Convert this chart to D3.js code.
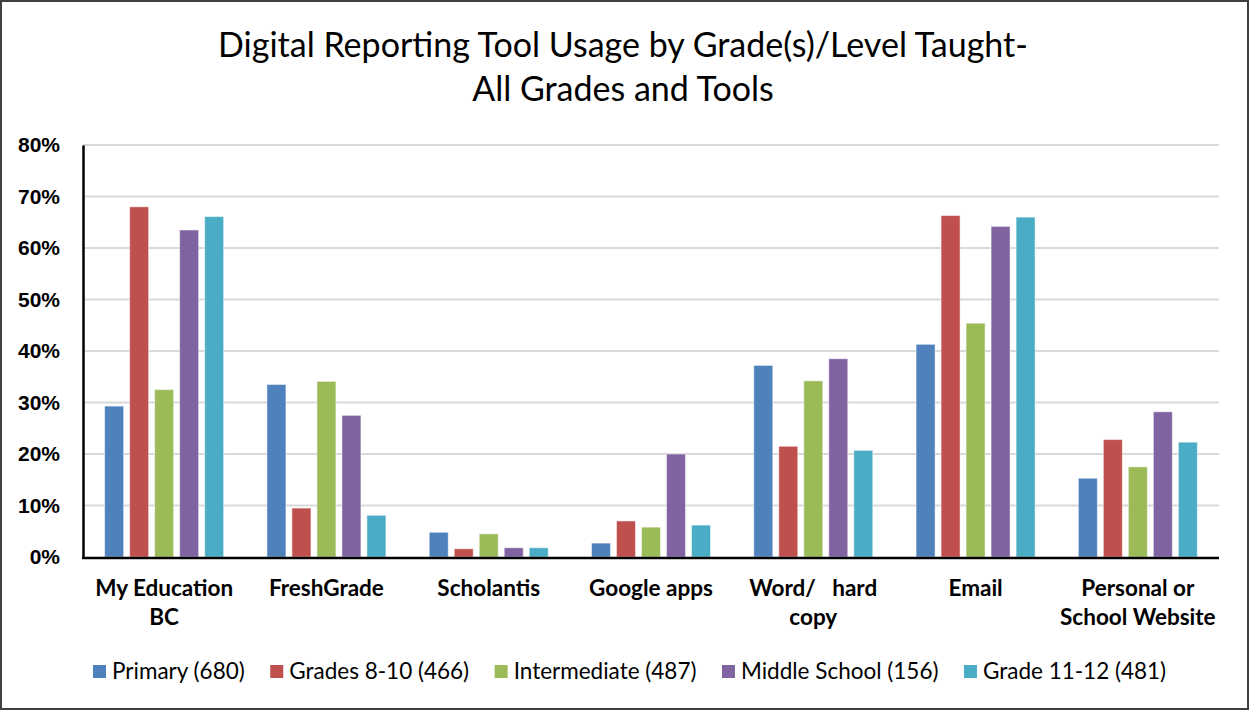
<!DOCTYPE html>
<html>
<head>
<meta charset="utf-8">
<script src="https://cdn.jsdelivr.net/npm/d3@7"></script>
<style>
  body { margin: 0; background: #fff; }
  svg { display: block; font-family: Lato, "Open Sans", sans-serif; }
  .tick text { font-weight: bold; font-size: 21px; fill: #000; }
</style>
</head>
<body>
<svg id="chart" width="1249" height="710"></svg>
<script>
// Chart data
const categories = [["My Education", "BC"], ["FreshGrade"], ["Scholantis"], ["Google apps"], ["Word/   hard", "copy"], ["Email"], ["Personal or", "School Website"]];
const seriesNames = ["Primary (680)", "Grades 8-10 (466)", "Intermediate (487)", "Middle School (156)", "Grade 11-12 (481)"];
const colors = ["#4f81bd", "#c0504d", "#9bbb59", "#8064a2", "#4bacc6"];
const primary      = [29.3, 33.5, 4.8, 2.7, 37.2, 41.3, 15.3];
const grades8to10  = [68.0,  9.5, 1.6, 7.0, 21.5, 66.3, 22.8];
const intermediate = [32.5, 34.1, 4.5, 5.8, 34.2, 45.4, 17.5];
const middleSchool = [63.5, 27.5, 1.8, 20.0, 38.5, 64.2, 28.2];
const grade11to12  = [66.1,  8.1, 1.8, 6.2, 20.7, 66.0, 22.3];
const yTicks = [0, 10, 20, 30, 40, 50, 60, 70, 80];

const seriesValues = [primary, grades8to10, intermediate, middleSchool, grade11to12];

const svg = d3.select("#chart");

// outer frame
svg.append("rect").attr("x", 1).attr("y", 1).attr("width", 1247).attr("height", 708)
    .attr("fill", "#fff").attr("stroke", "#404040").attr("stroke-width", 2);

// title
const title = svg.append("text").attr("text-anchor", "middle").attr("font-size", 34).attr("fill", "#000");
title.append("tspan").attr("x", 623).attr("y", 57).text("Digital Reporting Tool Usage by Grade(s)/Level Taught-");
title.append("tspan").attr("x", 623).attr("y", 101).text("All Grades and Tools");

const plotL = 83, plotR = 1219, plotT = 145, plotB = 557;

const x = d3.scaleBand().domain(d3.range(categories.length)).range([plotL, plotR]).paddingInner(0).paddingOuter(0);
const y = d3.scaleLinear().domain([0, 80]).range([plotB, plotT]);

// gridlines
svg.append("g").selectAll("line").data(yTicks.slice(1)).join("line")
    .attr("x1", plotL).attr("x2", plotR)
    .attr("y1", d => y(d)).attr("y2", d => y(d))
    .attr("stroke", "#d9d9d9").attr("stroke-width", 2);

// bars
const barW = 19, barStep = 25;
const groupW = barStep * 4 + barW;
seriesValues.forEach((vals, s) => {
    svg.append("g").selectAll("rect").data(vals).join("rect")
        .attr("x", (d, i) => x(i) + (x.bandwidth() - groupW) / 2 + s * barStep)
        .attr("y", d => y(d))
        .attr("width", barW)
        .attr("height", d => plotB - y(d))
        .attr("fill", colors[s])
        .attr("stroke", "#fff").attr("stroke-opacity", 0.5).attr("stroke-width", 1);
});

// y axis
const yAxis = svg.append("g").attr("transform", `translate(${plotL},0)`)
    .call(d3.axisLeft(y).tickValues(yTicks).tickFormat(d => d + "%").tickSize(0).tickPadding(23));
yAxis.select(".domain").attr("stroke", "#000").attr("stroke-width", 2.5);

// x axis line
svg.append("line").attr("x1", plotL - 1).attr("x2", plotR).attr("y1", plotB + 1).attr("y2", plotB + 1)
    .attr("stroke", "#000").attr("stroke-width", 2.5);

// category labels
const cat = svg.append("g").selectAll("text").data(categories).join("text")
    .attr("text-anchor", "middle").attr("font-size", 22.5).attr("font-weight", "bold").attr("fill", "#000");
cat.selectAll("tspan").data((d, i) => d.map(t => ({ t, i }))).join("tspan")
    .attr("x", d => x(d.i) + x.bandwidth() / 2)
    .attr("y", (d, j) => 596 + j * 29)
    .style("white-space", "pre")
    .text(d => d.t);

// legend
const legend = svg.append("g");
const items = legend.selectAll("g").data(seriesNames).join("g");
items.append("rect").attr("width", 13).attr("height", 13).attr("y", -14).attr("fill", (d, i) => colors[i]);
items.append("text").attr("x", 19).attr("font-size", 22.5).attr("fill", "#000").text(d => d);
let lx = 93;
items.each(function () {
    d3.select(this).attr("transform", `translate(${lx},679)`);
    lx += 19 + this.querySelector("text").getComputedTextLength() + 25.5;
});
</script>
</body>
</html>
